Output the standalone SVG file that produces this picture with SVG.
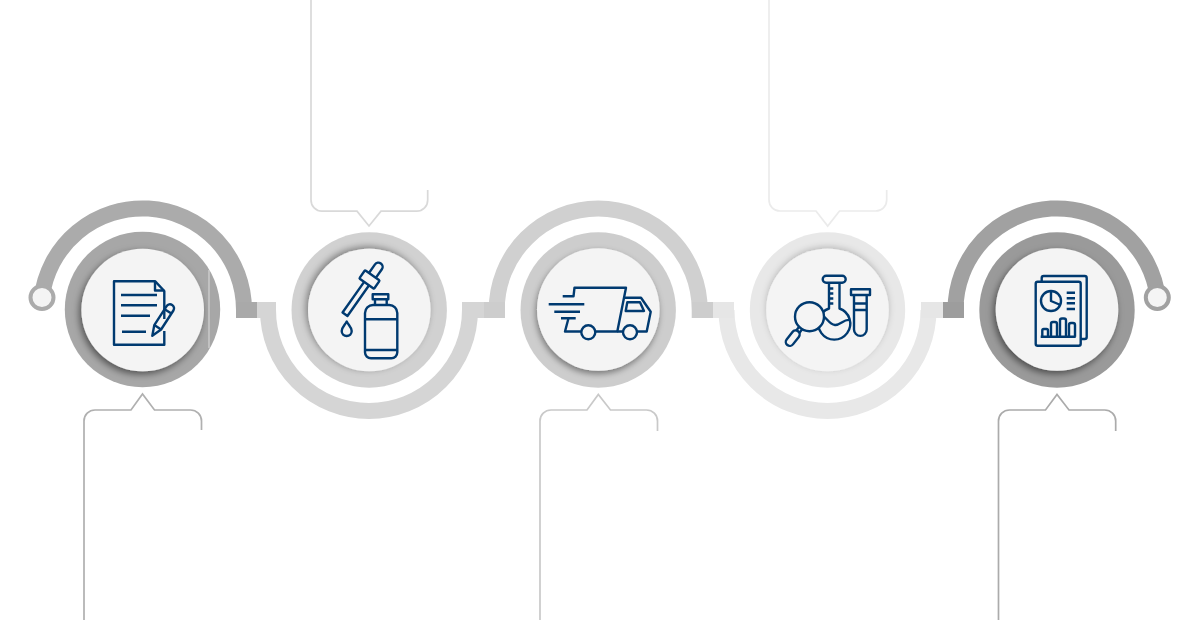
<svg xmlns="http://www.w3.org/2000/svg" width="1200" height="627" viewBox="0 0 1200 627">
<defs>
<filter id="sBL" x="-30%" y="-30%" width="160%" height="160%"><feDropShadow dx="-2" dy="3" stdDeviation="3.5" flood-color="#000" flood-opacity="0.5"/></filter>
<filter id="sTL" x="-30%" y="-30%" width="160%" height="160%"><feDropShadow dx="-2" dy="-2" stdDeviation="3.5" flood-color="#000" flood-opacity="0.4"/></filter>
<filter id="sB" x="-30%" y="-30%" width="160%" height="160%"><feDropShadow dx="-1" dy="3" stdDeviation="3" flood-color="#000" flood-opacity="0.42"/></filter>
<filter id="sT" x="-30%" y="-30%" width="160%" height="160%"><feDropShadow dx="0" dy="-2" stdDeviation="3" flood-color="#000" flood-opacity="0.2"/></filter>
</defs>
<style>
.arc{fill:none;stroke-width:16}
.face{fill:#f4f4f4}
.call{fill:none;stroke-width:1.7}
.ic{fill:none;stroke:#003a70;stroke-width:2.4;stroke-linejoin:round;stroke-linecap:butt}
</style>
<rect width="1200" height="627" fill="#fff"/>
<g id="connectors">
<path class="arc" stroke="#ababab" d="M41.7 298A101.5 101.5 0 0 1 244 310V318"/>
<rect x="236" y="302" width="21" height="16" fill="#a9a9a9"/>
<path class="arc" stroke="#d5d5d5" d="M268 310A101 101 0 0 0 470 310"/>
<rect x="257" y="302" width="19" height="16" fill="#d5d5d5"/>
<rect x="462" y="302" width="22" height="16" fill="#d5d5d5"/>
<path class="arc" stroke="#d0d0d0" d="M496.7 318V310A101.5 101.5 0 0 1 699.7 310V318"/>
<rect x="484" y="302" width="21" height="16" fill="#cdcdcd"/>
<rect x="692" y="302" width="21" height="16" fill="#cdcdcd"/>
<path class="arc" stroke="#e8e8e8" d="M726.5 310A101 101 0 0 0 928.5 310"/>
<rect x="713" y="302" width="21" height="16" fill="#e6e6e6"/>
<rect x="921" y="302" width="22" height="16" fill="#e6e6e6"/>
<path class="arc" stroke="#a1a1a1" d="M955.5 318V310A101.5 101.5 0 0 1 1157.800 298"/>
<rect x="943" y="302" width="21" height="16" fill="#9d9d9d"/>
<circle cx="42" cy="297.5" r="11.5" fill="#f4f4f4" stroke="#ababab" stroke-width="4"/>
<circle cx="1157.3" cy="297.5" r="11.5" fill="#f4f4f4" stroke="#a1a1a1" stroke-width="4"/>
</g>
<g id="node-1">
<circle cx="142.5" cy="309.5" r="77.7" fill="#a7a7a7"/>
<circle class="face" cx="142.7" cy="310" r="61.3" filter="url(#sBL)"/>
<path d="M209 270V348" stroke="#dcdcdc" stroke-width="1" fill="none"/>
<path class="call" stroke="#b0b0b0" d="M84 620V421A11 11 0 0 1 95 410H131L142.5 394L154.5 410H190.5A11 11 0 0 1 201.5 421V430"/>
<g class="ic">
<path d="M164.3 319V291L155 281.2H114V344.7H164.3V331"/>
<path d="M155 281.2V290.5H164.3"/>
<path d="M121 295H157M121 305.3H157M121 315.7H150M122 331.7H146"/>
<path d="M152.3 335.7L154.3 325.1L166.6 306.1A4 4 0 0 1 173.4 310.5L161.1 329.5Z"/>
<path d="M154.3 325.1L161.1 329.5M164.6 309.2L171.4 313.6"/>
</g>
</g>
<g id="node-2">
<circle cx="369.2" cy="310" r="77.7" fill="#d1d1d1"/>
<circle class="face" cx="369.3" cy="310" r="61.3" filter="url(#sTL)"/>
<path class="call" stroke="#d9d9d9" d="M311 0V200A11 11 0 0 0 322 211.2H357L369 226L381 211.2H416.7A11 11 0 0 0 427.7 200V190"/>
<g class="ic">
<path d="M365 313A8 8 0 0 1 373 305H389.3A8 8 0 0 1 397.3 313V352.3A6 6 0 0 1 391.3 358.3H371A6 6 0 0 1 365 352.3Z"/>
<path d="M365 319.3H397.3M365 350H397.3"/>
<path d="M375 305V299M386.7 305V299"/>
<rect x="372.7" y="294.3" width="15.6" height="5"/>
<g transform="translate(369.5 279.5) rotate(35.2)">
<rect x="-9" y="-5" width="18" height="10" rx="1"/>
<path d="M-4.2 -5V-15.5A4.2 4.2 0 0 1 4.2 -15.5V-5"/>
<path d="M-3 5V42.5H3V5"/>
</g>
<path d="M346.7 321.5C345 325 341.7 327.5 341.7 331A5 5 0 0 0 351.7 331C351.7 327.5 348.4 325 346.7 321.5Z"/>
</g>
</g>
<g id="node-3">
<circle cx="598.2" cy="310" r="77.7" fill="#cdcdcd"/>
<circle class="face" cx="598.3" cy="309.5" r="61.3" filter="url(#sB)"/>
<path class="call" stroke="#c9c9c9" d="M540 620V421A11 11 0 0 1 551 410H587L598.3 394.5L610.5 410H646.5A11 11 0 0 1 657.5 421V431"/>
<g class="ic">
<path d="M562.7 296.3H573.5L574.5 287.7H626L617.3 331.5H595.3M581.5 331.5H565L568.3 319"/>
<path d="M548.7 304.3H584.3M554.3 311.7H580M561 318.3H575.7"/>
<circle cx="588.3" cy="332.3" r="7"/>
<circle cx="630" cy="332.3" r="7"/>
<path d="M623.5 297.7H641L650.7 311.7L646.7 331.5H637M623 331.5H617.3"/>
<path d="M627.3 302.3H640L644 311H625.7Z"/>
</g>
</g>
<g id="node-4">
<circle cx="827.5" cy="310" r="77.7" fill="#e8e8e8"/>
<circle class="face" cx="827.5" cy="310" r="61.3" filter="url(#sT)"/>
<path class="call" stroke="#ebebeb" d="M769 0V200A11 11 0 0 0 780 211H816L827.7 226L839.5 211H875.7A11 11 0 0 0 886.7 200V190"/>
<g class="ic">
<rect x="822.7" y="275.7" width="23" height="7" rx="3.5"/>
<path d="M829 282.7V308.5A16 16 0 1 0 839.5 308.5V282.7"/>
<path d="M829 288.5H833.3M829 293.5H833.3M829 298.5H833.3M829 303.5H833.3"/>
<path d="M823 316C827 318 829 324 835 325C840 325.5 844 319 849.5 320"/>
<g transform="translate(809.5 316.7) rotate(38)">
<path d="M-2 14.5V19M2 14.5V19"/>
<rect x="-4" y="18.5" width="8" height="17.5" rx="4"/>
</g>
<circle cx="809.5" cy="316.7" r="14.5" fill="#f4f4f4"/>
<rect x="851" y="289.3" width="19" height="5.7"/>
<path d="M854 295V329.5A6.35 6.35 0 0 0 866.7 329.5V295"/>
<path d="M854 303.5H866.7M854 310H866.7"/>
</g>
</g>
<g id="node-5">
<circle cx="1057" cy="310" r="77.7" fill="#9a9a9a"/>
<circle class="face" cx="1057" cy="309.5" r="61.3" filter="url(#sBL)"/>
<path class="call" stroke="#ababab" d="M998.5 620V421A11 11 0 0 1 1009.5 410H1045.5L1057 394.5L1069 410H1104.7A11 11 0 0 1 1115.7 421V431"/>
<g class="ic">
<path d="M1041.7 281.7V278A2 2 0 0 1 1043.7 276H1084.7A2 2 0 0 1 1086.7 278V337A2 2 0 0 1 1084.7 339H1080.7"/>
<rect x="1035.7" y="281.7" width="45" height="64" rx="2"/>
<circle cx="1051" cy="301" r="10"/>
<path d="M1051 291V301L1060.5 305"/>
<path d="M1066.7 292.7H1075M1066.7 298.3H1075M1066.7 303.3H1075M1066.7 309H1075"/>
<path d="M1040.7 336.7H1075.7"/>
<path d="M1042.3 336.7V330.5A1.5 1.500 0 0 1 1043.8 329H1046.5A1.5 1.5 0 0 1 1048 330.5V336.7"/>
<path d="M1051 336.7V324A2 2 0 0 1 1053 322H1055A2 2 0 0 1 1057 324V336.7"/>
<path d="M1060 336.7V320.5A2 2 0 0 1 1062 318.5H1064A2 2 0 0 1 1066 320.5V336.7"/>
<path d="M1069 336.7V325A2 2 0 0 1 1071 323H1073A2 2 0 0 1 1075 325V336.7"/>
</g>
</g>
</svg>
